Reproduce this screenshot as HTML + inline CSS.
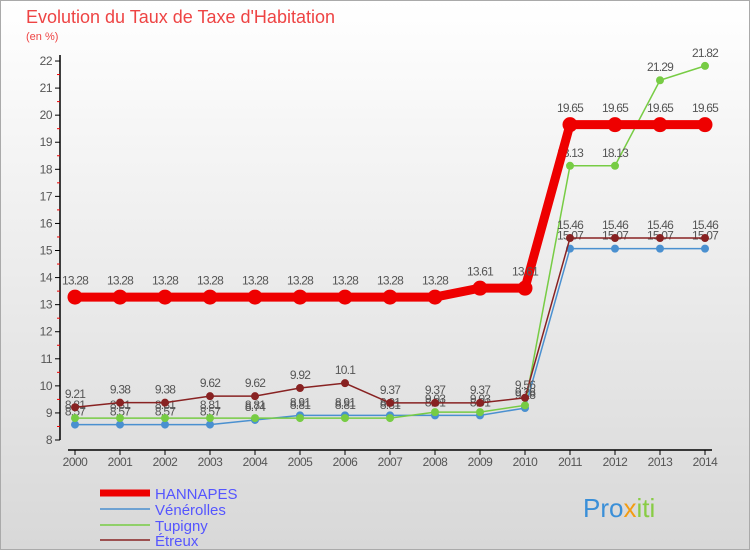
<!DOCTYPE html>
<html><head><meta charset="utf-8"><style>
body{margin:0;width:750px;height:550px;overflow:hidden;font-family:"Liberation Sans",sans-serif}
#c{position:absolute;left:0;top:0;width:748px;height:548px;border:1px solid #aaa;background:linear-gradient(#fff,#d8d8d8)}
</style></head><body>
<div id="c">
<svg width="750" height="550" id="svg" style="position:absolute;left:-1px;top:-1px">
<text x="26" y="23" font-size="18" fill="#e44">Evolution du Taux de Taxe d'Habitation</text>
<text x="26" y="40" font-size="11" fill="#e44">(en %)</text>
<g id="axes"></g><g id="series"></g>
<g>
<line x1="100" y1="493" x2="150" y2="493" stroke="#e00" stroke-width="7"/>
<text x="155" y="499" font-size="15" fill="#55f">HANNAPES</text>
<line x1="100" y1="509" x2="150" y2="509" stroke="#4a90d0" stroke-width="1.5"/>
<text x="155" y="515" font-size="15" fill="#55f">Vénérolles</text>
<line x1="100" y1="525" x2="150" y2="525" stroke="#7c4" stroke-width="1.5"/>
<text x="155" y="531" font-size="15" fill="#55f">Tupigny</text>
<line x1="100" y1="540" x2="150" y2="540" stroke="#822" stroke-width="1.5"/>
<text x="155" y="546" font-size="15" fill="#55f">Étreux</text>
</g>
<text x="583" y="517" font-size="26" fill="#3a8fd8">Pro<tspan fill="#f39c12">x</tspan><tspan fill="#8c4">iti</tspan></text>
</svg></div>
<script>
const years=[2000,2001,2002,2003,2004,2005,2006,2007,2008,2009,2010,2011,2012,2013,2014];
const hannapes=[13.28,13.28,13.28,13.28,13.28,13.28,13.28,13.28,13.28,13.61,13.61,19.65,19.65,19.65,19.65];
const venerolles=[8.57,8.57,8.57,8.57,8.74,8.91,8.91,8.91,8.91,8.91,9.18,15.07,15.07,15.07,15.07];
const tupigny=[8.81,8.81,8.81,8.81,8.81,8.81,8.81,8.81,9.03,9.03,9.28,18.13,18.13,21.29,21.82];
const etreux=[9.21,9.38,9.38,9.62,9.62,9.92,10.1,9.37,9.37,9.37,9.56,15.46,15.46,15.46,15.46];
const yTicks=[8,9,10,11,12,13,14,15,16,17,18,19,20,21,22];
const NS="http://www.w3.org/2000/svg";
const X=i=>75+i*45, Y=v=>440-(v-8)*27.07;
function mk(t,a,p){const e=document.createElementNS(NS,t);for(const k in a)e.setAttribute(k,a[k]);p.appendChild(e);return e;}
const ax=document.getElementById('axes'),sr=document.getElementById('series');
let l=mk('line',{x1:60,y1:55,x2:60,y2:440,stroke:'#000','stroke-width':1.5},ax);


l=mk('line',{x1:68,y1:450,x2:712,y2:450,stroke:'#000','stroke-width':1.5},ax);


yTicks.forEach(v=>{
 mk('line',{x1:55,y1:Y(v),x2:60,y2:Y(v),stroke:'#000'},ax);
 if(v<22)mk('line',{x1:57,y1:Y(v+0.5),x2:60,y2:Y(v+0.5),stroke:'#e00'},ax);
 const t=mk('text',{x:52,y:Y(v)+4,'font-size':12,fill:'#555','text-anchor':'end','letter-spacing':'-0.5'},ax);
 t.textContent=v;
 
 
});
years.forEach((y,i)=>{
 mk('line',{x1:X(i),y1:450,x2:X(i),y2:455,stroke:'#000'},ax);
 const t=mk('text',{x:X(i),y:466,'font-size':12,fill:'#555','text-anchor':'middle','letter-spacing':'-0.5'},ax);
 t.textContent=y;
 
 
});
function series(d,col,w,r,name){
 const g=mk('g',{},sr);
 
 
 mk('polyline',{points:d.map((v,i)=>X(i)+','+Y(v)).join(' '),fill:'none',stroke:col,'stroke-width':w},g);
 d.forEach((v,i)=>{
  const c=mk('circle',{cx:X(i),cy:Y(v),r:r,fill:col},g);
  
  
  const t=mk('text',{x:X(i),y:Y(v)-r-5,'font-size':12,fill:'#555','text-anchor':'middle','letter-spacing':'-0.8'},g);
  t.textContent=v;
  
  
 });
}
series(venerolles,'#4a90d0',1.5,4,'venerolles-series');
series(tupigny,'#7c4',1.5,4,'tupigny-series');
series(etreux,'#822',1.5,4,'etreux-series');
series(hannapes,'#e00',9,7.5,'hannapes-series');
</script>
</body></html>
